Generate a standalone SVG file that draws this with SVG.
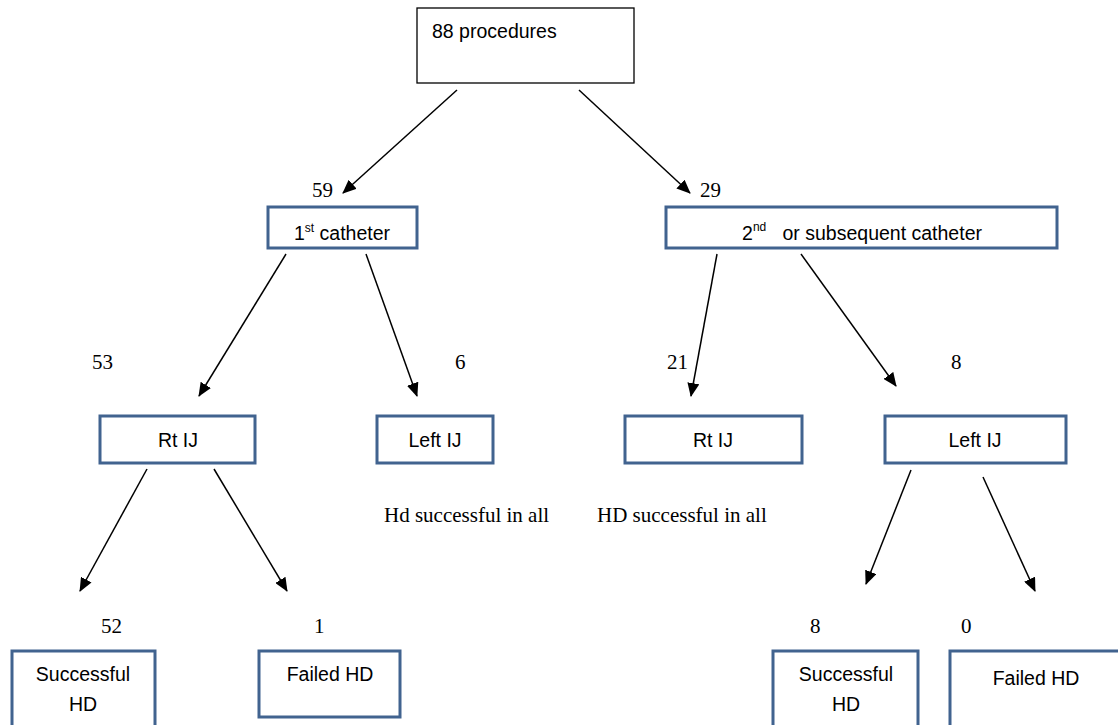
<svg xmlns="http://www.w3.org/2000/svg" width="1118" height="725" viewBox="0 0 1118 725">
<style>
.box{fill:#fff;stroke:#41638f;stroke-width:3}
.top{fill:#fff;stroke:#000;stroke-width:1.3}
.t{font-family:"Liberation Sans",Arial,sans-serif;font-size:19.5px;fill:#000;text-anchor:middle}
.n{font-family:"Liberation Serif","Times New Roman",serif;font-size:21px;fill:#000}
.c{stroke:#000;stroke-width:1.5;fill:none;marker-end:url(#ah)}
</style>
<defs>
<marker id="ah" markerUnits="userSpaceOnUse" markerWidth="14" markerHeight="12" refX="13" refY="6" orient="auto">
<path d="M0,0 L14,6 L0,12 Z" fill="#000"/>
</marker>
</defs>
<rect width="1118" height="725" fill="#fff"/>
<g id="connectors">
<line class="c" x1="457" y1="90" x2="343" y2="193"/>
<line class="c" x1="579" y1="90" x2="690" y2="193"/>
<line class="c" x1="286" y1="254" x2="199" y2="396"/>
<line class="c" x1="366" y1="254" x2="417" y2="396"/>
<line class="c" x1="717" y1="254" x2="691" y2="396"/>
<line class="c" x1="801" y1="254" x2="896" y2="386"/>
<line class="c" x1="147" y1="469" x2="80" y2="591"/>
<line class="c" x1="214" y1="469" x2="287" y2="591"/>
<line class="c" x1="911" y1="470" x2="866" y2="584"/>
<line class="c" x1="983" y1="477" x2="1035" y2="591"/>
</g>
<g id="n-root">
<rect class="top" x="417" y="8" width="217" height="75"/>
<text class="t" x="432" y="38" style="text-anchor:start">88 procedures</text>
</g>
<g id="n-first">
<text class="n" x="312" y="197">59</text>
<rect class="box" x="268" y="207" width="149" height="41"/>
<text class="t" x="342" y="240">1<tspan font-size="12" dy="-8">st</tspan><tspan dy="8"> catheter</tspan></text>
</g>
<g id="n-second">
<text class="n" x="700" y="197">29</text>
<rect class="box" x="666" y="207" width="391" height="41"/>
<text class="t" x="862" y="240" xml:space="preserve">2<tspan font-size="12" dy="-9">nd</tspan><tspan dy="9">   or subsequent catheter</tspan></text>
</g>
<g id="n-rtij1">
<text class="n" x="92" y="369">53</text>
<rect class="box" x="100" y="416" width="155" height="47"/>
<text class="t" x="178" y="447">Rt IJ</text>
</g>
<g id="n-leftij1">
<text class="n" x="455" y="369">6</text>
<rect class="box" x="377" y="416" width="116" height="47"/>
<text class="t" x="435" y="447">Left IJ</text>
<text class="n" x="384" y="522">Hd successful in all</text>
</g>
<g id="n-rtij2">
<text class="n" x="667" y="369">21</text>
<rect class="box" x="625" y="416" width="177" height="47"/>
<text class="t" x="713" y="447">Rt IJ</text>
<text class="n" x="597" y="522">HD successful in all</text>
</g>
<g id="n-leftij2">
<text class="n" x="951" y="369">8</text>
<rect class="box" x="885" y="416" width="181" height="47"/>
<text class="t" x="975" y="447">Left IJ</text>
</g>
<g id="n-succ1">
<text class="n" x="101" y="633">52</text>
<rect class="box" x="12" y="651" width="143" height="76"/>
<text class="t" x="83" y="681">Successful</text>
<text class="t" x="83" y="711">HD</text>
</g>
<g id="n-fail1">
<text class="n" x="314" y="633">1</text>
<rect class="box" x="259" y="651" width="141" height="66"/>
<text class="t" x="330" y="681">Failed HD</text>
</g>
<g id="n-succ2">
<text class="n" x="810" y="633">8</text>
<rect class="box" x="773" y="651" width="145" height="76"/>
<text class="t" x="846" y="681">Successful</text>
<text class="t" x="846" y="711">HD</text>
</g>
<g id="n-fail2">
<text class="n" x="961" y="633">0</text>
<rect class="box" x="950" y="651" width="170" height="76"/>
<text class="t" x="1036" y="685">Failed HD</text>
</g>
</svg>
